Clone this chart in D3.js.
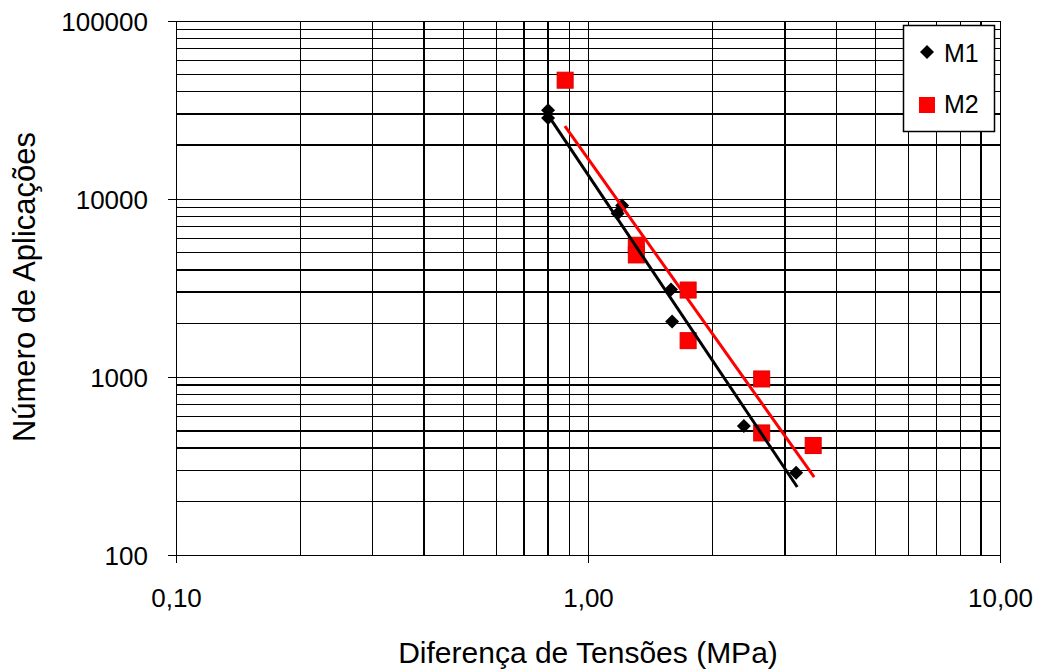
<!DOCTYPE html>
<html>
<head>
<meta charset="utf-8">
<script src="https://cdn.jsdelivr.net/npm/d3@7"></script>
<style>
  html, body { margin: 0; padding: 0; background: #fff; }
  svg { display: block; }
  text { font-family: "Liberation Sans", Arial, sans-serif; fill: #000; }
</style>
</head>
<body>
<svg id="chart" width="1042" height="671"></svg>
<script>
// Stress difference (MPa) vs. number of load applications
const m1Stress = [0.80, 0.80, 1.21, 1.18, 1.59, 1.60, 2.39, 3.20];
const m1Cycles = [31500, 28500, 9200, 8300, 3100, 2050, 530, 290];
const m2Stress = [0.88, 1.31, 1.31, 1.75, 1.75, 2.64, 2.64, 3.52];
const m2Cycles = [46500, 5500, 4850, 3080, 1600, 975, 485, 412];

// Power-law trend lines (end points)
const m1TrendStress = [0.80, 3.22];
const m1TrendCycles = [29600, 241];
const m2TrendStress = [0.879, 3.54];
const m2TrendCycles = [25700, 274];

// Axis ticks and titles
const xTickValues = [0.1, 1, 10];
const yTickValues = [100, 1000, 10000, 100000];
const seriesNames = ["M1", "M2"];
const xTitle = "Diferença de Tensões (MPa)";
const yTitle = "Número de Aplicações";

// Gridlines drawn heavier
const heavyX = [0.4, 0.7, 0.8, 3, 9];
const heavyY = [400, 500, 900, 3000, 4000, 20000, 30000];

const svg = d3.select("#chart");
const x = d3.scaleLog().domain([0.1, 10]).range([176, 1000]);
const y = d3.scaleLog().domain([100, 100000]).range([555, 21]);

const near = (a, b) => Math.abs(a - b) / b < 1e-6;
const isHeavy = (list, v) => list.some(h => near(v, h));

// Gridlines
const grid = svg.append("g").attr("shape-rendering", "crispEdges");
grid.selectAll("line.gy").data(y.ticks()).join("line")
  .attr("class", "gy")
  .attr("x1", x.range()[0]).attr("x2", x.range()[1])
  .attr("y1", d => y(d)).attr("y2", d => y(d))
  .attr("stroke", "#000")
  .attr("stroke-width", d => isHeavy(heavyY, d) ? 2 : 1);
grid.selectAll("line.gx").data(x.ticks()).join("line")
  .attr("class", "gx")
  .attr("y1", y.range()[0]).attr("y2", y.range()[1])
  .attr("x1", d => x(d)).attr("x2", d => x(d))
  .attr("stroke", "#000")
  .attr("stroke-width", d => isHeavy(heavyX, d) ? 2 : 1);

// Axes
const commaFmt = d3.formatLocale({decimal: ",", thousands: ".", grouping: [3], currency: ["", ""]}).format(".2f");
const xAxis = svg.append("g")
  .attr("transform", `translate(0,${y.range()[0]})`)
  .call(d3.axisBottom(x).tickValues(xTickValues).tickFormat(commaFmt).tickSize(8).tickPadding(26).tickSizeOuter(0));
const yAxis = svg.append("g")
  .attr("transform", `translate(${x.range()[0]},0)`)
  .call(d3.axisLeft(y).tickValues(yTickValues).tickFormat(d3.format("d")).tickSize(8).tickPadding(20).tickSizeOuter(0));
[xAxis, yAxis].forEach(a => {
  a.attr("shape-rendering", "crispEdges");
  a.select(".domain").attr("stroke", "#000").attr("stroke-width", 1);
  a.selectAll(".tick line").attr("stroke", "#000");
  a.selectAll(".tick text").attr("font-size", 26).attr("font-family", "Liberation Sans, Arial, sans-serif").attr("fill", "#000");
});
yAxis.selectAll(".tick text").attr("dy", "0.38em");

// Axis titles
svg.append("text")
  .attr("x", 588).attr("y", 663)
  .attr("text-anchor", "middle")
  .attr("font-size", 30)
  .text(xTitle);
svg.append("text")
  .attr("transform", "translate(35,287) rotate(-90)")
  .attr("text-anchor", "middle")
  .attr("font-size", 31)
  .text(yTitle);

// Markers
const diamond = d3.symbol(d3.symbolSquare, 98);
const m1 = m1Stress.map((s, i) => [s, m1Cycles[i]]);
const m2 = m2Stress.map((s, i) => [s, m2Cycles[i]]);

svg.append("g").selectAll("path").data(m1).join("path")
  .attr("d", diamond)
  .attr("transform", d => `translate(${x(d[0])},${y(d[1])}) rotate(45)`)
  .attr("fill", "#000");

const sq = 16;
svg.append("g").selectAll("rect").data(m2).join("rect")
  .attr("x", d => x(d[0]) - sq / 2).attr("y", d => y(d[1]) - sq / 2)
  .attr("width", sq).attr("height", sq)
  .attr("fill", "#ff0000").attr("stroke", "#e00000").attr("stroke-width", 1);

// Trend lines
const line = d3.line().x(d => x(d[0])).y(d => y(d[1]));
svg.append("path")
  .datum(m1TrendStress.map((s, i) => [s, m1TrendCycles[i]]))
  .attr("d", line).attr("fill", "none").attr("stroke", "#000").attr("stroke-width", 3);
svg.append("path")
  .datum(m2TrendStress.map((s, i) => [s, m2TrendCycles[i]]))
  .attr("d", line).attr("fill", "none").attr("stroke", "#ff0000").attr("stroke-width", 3);

// Legend
const legend = svg.append("g");
legend.append("rect")
  .attr("x", 903.5).attr("y", 25.5).attr("width", 91).attr("height", 106)
  .attr("fill", "#fff").attr("stroke", "#000").attr("stroke-width", 1.5);
legend.append("path")
  .attr("d", diamond)
  .attr("transform", "translate(927,52) rotate(45)")
  .attr("fill", "#000");
legend.append("rect")
  .attr("x", 927 - sq / 2).attr("y", 105 - sq / 2).attr("width", sq).attr("height", sq)
  .attr("fill", "#ff0000");
legend.selectAll("text.lbl").data(seriesNames).join("text")
  .attr("class", "lbl")
  .attr("x", 944).attr("y", (d, i) => 62 + i * 51)
  .attr("font-size", 25)
  .text(d => d);
</script>
</body>
</html>
